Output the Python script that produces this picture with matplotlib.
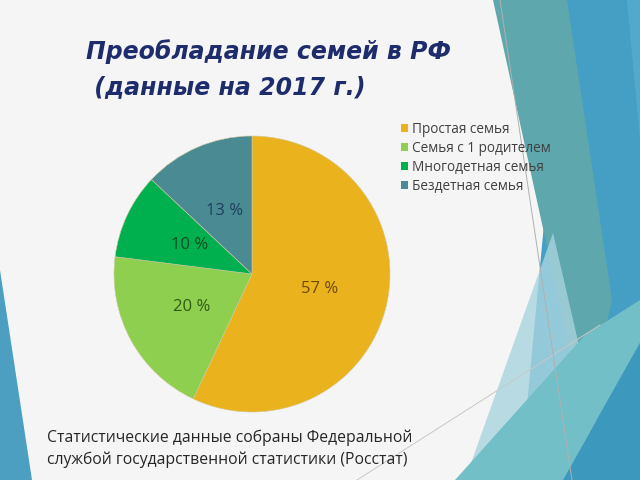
import matplotlib
matplotlib.use("Agg")
import matplotlib.pyplot as plt
from matplotlib.patches import Polygon, Patch
from matplotlib.lines import Line2D

# ---- data ----
categories = ["Простая семья", "Семья с 1 родителем", "Многодетная семья", "Бездетная семья"]
values = [57, 20, 10, 13]
title_lines = ["Преобладание семей в РФ", " (данные на 2017 г.)"]
footnote = ["Статистические данные собраны Федеральной",
            "службой государственной статистики (Росстат)"]

colors = ["#EAB31E", "#8FCF4F", "#00B04F", "#4A8B93"]
label_colors = ["#6B4A05", "#2F5A12", "#0E4A22", "#1E3F5E"]

W, H = 640, 480
fig = plt.figure(figsize=(6.4, 4.8), dpi=100)
fig.patch.set_facecolor("#f5f5f5")

# background / decoration axes in pixel coordinates
bg = fig.add_axes([0, 0, 1, 1])
bg.set_xlim(0, W)
bg.set_ylim(H, 0)
bg.axis("off")

def poly(pts, color, alpha=1.0, z=1):
    bg.add_patch(Polygon(pts, closed=True, facecolor=color, edgecolor="none", alpha=alpha, zorder=z))

# left strip
poly([(0, 270), (0, 480), (32, 480)], "#4c9fc1", 1, 1)
# right decorations
poly([(565, 0), (640, 0), (640, 480), (520, 480)], "#459fc4", 1, 1)
poly([(493, 0), (567, 0), (612, 300), (585, 420)], "#5ea7ad", 1, 2)
poly([(627, 0), (640, 0), (640, 140)], "#52a9cc", 1, 2)
poly([(553, 233), (610, 480), (465, 480)], "#a9d4df", 0.8, 3)
poly([(455, 480), (585, 335), (640, 300), (640, 343), (563, 480)], "#73bfc8", 1, 4)
poly([(563, 480), (640, 343), (640, 480)], "#3d98be", 1, 4)
bg.add_line(Line2D([357, 600], [480, 325], color="#c8c8c8", lw=0.7, zorder=5))
bg.add_line(Line2D([500, 572], [0, 480], color="#b0b0b0", lw=0.7, zorder=5))

# title
bg.text(86, 59, title_lines[0], fontsize=17, fontweight="bold", fontstyle="italic",
        family=["DejaVu Sans"], color="#1F2C6C", zorder=6)
bg.text(86, 94, title_lines[1], fontsize=17, fontweight="bold", fontstyle="italic",
        family=["DejaVu Sans"], color="#1F2C6C", zorder=6)

# footnote
for i, line in enumerate(footnote):
    bg.text(47, 442 + i * 22, line, fontsize=11.3, family=["Open Sans", "DejaVu Sans"],
            color="#262626", zorder=6)

# pie
cx, cy, r = 252, 274, 138
pax = fig.add_axes([(cx - r) / W, (H - cy - r) / H, 2 * r / W, 2 * r / H])
wedges, texts, autotexts = pax.pie(values, colors=colors, startangle=90, counterclock=False,
                                   autopct=lambda p: f"{p:.0f} %", pctdistance=0.5,
                                   wedgeprops=dict(linewidth=0.4, edgecolor="#d0c8a0"),
                                   textprops=dict(fontsize=12, family=["Open Sans", "DejaVu Sans"]))
for t, c in zip(autotexts, label_colors):
    t.set_color(c)
pax.set_xlim(-1, 1)
pax.set_ylim(-1, 1)
pax.set_aspect("equal")
pax.axis("off")

# legend
handles = [Patch(facecolor=c, edgecolor="none") for c in colors]
leg = fig.legend(handles, categories, loc="upper left", bbox_to_anchor=(394 / W, 1 - 115 / H),
                 frameon=False, handlelength=0.55, handleheight=0.55,
                 handletextpad=0.25, labelspacing=0.3, borderpad=0,
                 prop=dict(family=["Open Sans", "DejaVu Sans"], size=9.8))
for t in leg.get_texts():
    t.set_color("#404040")

fig.savefig("out.png", dpi=100, facecolor=fig.get_facecolor())
